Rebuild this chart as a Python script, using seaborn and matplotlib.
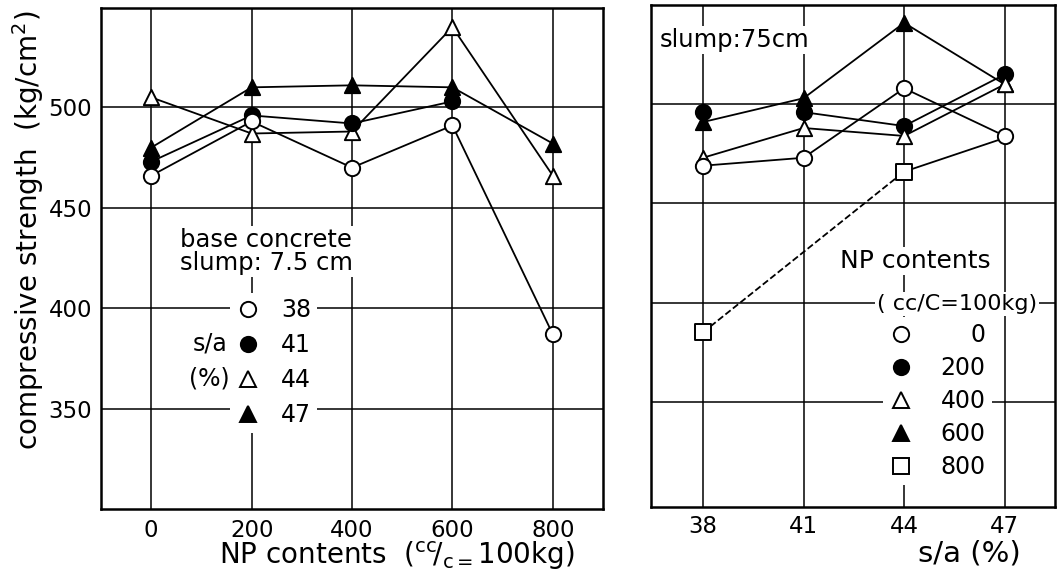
import numpy as np
import matplotlib
matplotlib.use("Agg")
import matplotlib.pyplot as plt
from matplotlib.lines import Line2D
import seaborn as sns

# ---- data -------------------------------------------------------------
np_contents = [0, 200, 400, 600, 800]          # NP contents (cc/C=100kg)
sa_levels = [38, 41, 44, 47]                   # s/a (%)

# compressive strength (kg/cm2) against NP contents, one series per s/a
strength_sa38 = [466, 493, 470, 491, 387]
strength_sa41 = [473, 496, 492, 503, np.nan]
strength_sa44 = [505, 487, 488, 540, 466]
strength_sa47 = [480, 510, 511, 510, 482]

# compressive strength (kg/cm2) against s/a, one series per NP content
strength_np0 = [469, 473, 508, 484]
strength_np200 = [496, 496, 489, 515]
strength_np400 = [473, 488, 484, 510]
strength_np600 = [491, 503, 541, 510]
strength_np800 = [385, np.nan, 466, 483]

sa_labels = ["38", "41", "44", "47"]
np_labels = ["0", "200", "400", "600", "800"]
strength_ticks = [350, 400, 450, 500]

# ---- style ------------------------------------------------------------
sns.set_theme(style="white")
plt.rcParams["font.family"] = ["DejaVu Sans"]
plt.rcParams["mathtext.fontset"] = "dejavusans"
for key in ("text.color", "axes.labelcolor", "xtick.color", "ytick.color",
            "axes.edgecolor"):
    plt.rcParams[key] = "black"
plt.rcParams["axes.linewidth"] = 1.8

MS = 11
MEW = 1.4
LW = 1.3
FS_TICK = 16.5
FS_LEG = 17
FS_TEXT = 17.5
FS_LABEL = 20

fig = plt.figure(figsize=(10.57, 5.73), dpi=100)
ax_l = fig.add_axes([0.0956, 0.1117, 0.4749, 0.8743])
ax_r = fig.add_axes([0.6159, 0.1152, 0.3822, 0.8761])


def draw_line(ax, x, y, dashed=False):
    sns.lineplot(x=x, y=y, ax=ax, color="black", lw=LW, zorder=2,
                 linestyle="--" if dashed else "-", legend=False)


def draw_marks(ax, x, y, marker, face, z):
    sns.scatterplot(x=x, y=y, ax=ax, marker=marker, s=MS ** 2, color=face,
                    edgecolor="black", linewidth=MEW, zorder=z, legend=False)


def style_axes(ax, xticks, xlabels, ylim, xlim, show_y):
    ax.set_xlim(*xlim)
    ax.set_ylim(*ylim)
    ax.set_xticks(xticks)
    ax.set_xticklabels(xlabels)
    ax.set_yticks(strength_ticks)
    if not show_y:
        ax.set_yticklabels([])
    ax.tick_params(length=0, labelsize=FS_TICK, colors="black")
    ax.grid(True, color="black", lw=1.1)
    ax.set_axisbelow(True)
    for sp in ax.spines.values():
        sp.set_visible(True)
        sp.set_color("black")
        sp.set_linewidth(1.8)


def marker_handles(specs):
    return [Line2D([], [], ls="none", marker=mk, ms=MS, mfc=face,
                   mec="black", mew=MEW) for mk, face in specs]


def white_legend(ax, handles, labels, anchor, textpad, spacing):
    leg = ax.legend(handles, labels, loc="upper left", bbox_to_anchor=anchor,
                    frameon=True, fontsize=FS_LEG, handlelength=1.0,
                    handletextpad=textpad, borderpad=0.25,
                    labelspacing=spacing, borderaxespad=0, fancybox=False,
                    framealpha=1)
    leg.get_frame().set_facecolor("white")
    leg.get_frame().set_edgecolor("none")
    return leg


white_box = dict(facecolor="white", edgecolor="none", pad=1.5)

# ---- left panel: strength vs NP contents -------------------------------
left_series = [
    (strength_sa44, "^", "white", 3),
    (strength_sa41, "o", "black", 4),
    (strength_sa47, "^", "black", 5),
    (strength_sa38, "o", "white", 6),
]
for vals, mk, face, z in left_series:
    x = np.array(np_contents, dtype=float)
    y = np.array(vals, dtype=float)
    ok = ~np.isnan(y)
    draw_line(ax_l, x[ok], y[ok])
    draw_marks(ax_l, x[ok], y[ok], mk, face, z)

style_axes(ax_l, np_contents, np_labels, (300, 549.5), (-100, 900), True)
ax_l.tick_params(axis="y", pad=6.5)
ax_l.tick_params(axis="x", pad=7)
ax_l.set_ylabel("compressive strength  (kg/cm$^2$)", fontsize=FS_LABEL)
ax_l.yaxis.set_label_coords(-0.110, 0.557)
ax_l.set_xlabel(r"NP contents  ($^{\rm cc}\!/_{\rm c=}$100kg)", fontsize=FS_LABEL)
ax_l.xaxis.set_label_coords(0.588, -0.062)

ax_l.text(0.157, 0.514, "base concrete\nslump: 7.5 cm", transform=ax_l.transAxes,
          fontsize=FS_TEXT, ha="left", va="center", linespacing=0.95,
          bbox=white_box, zorder=6)
ax_l.text(0.251, 0.331, "s/a", transform=ax_l.transAxes,
          fontsize=FS_LEG, ha="right", va="center", bbox=white_box, zorder=6)
ax_l.text(0.257, 0.261, "(%)", transform=ax_l.transAxes,
          fontsize=FS_LEG, ha="right", va="center", bbox=white_box, zorder=6)

white_legend(ax_l,
             marker_handles([("o", "white"), ("o", "black"),
                             ("^", "white"), ("^", "black")]),
             sa_labels, (0.2575, 0.432), 0.9, 0.46)

# ---- right panel: strength vs s/a ---------------------------------------
sa = np.array(sa_levels, dtype=float)

# NP 800: dashed from 38 to 44, solid from 44 to 47
v800 = np.array(strength_np800, dtype=float)
draw_line(ax_r, sa[[0, 2]], v800[[0, 2]], dashed=True)
draw_line(ax_r, sa[2:], v800[2:])
draw_marks(ax_r, sa[[0, 2]], v800[[0, 2]], "s", "white", 3)

v600 = np.array(strength_np600, dtype=float)
draw_line(ax_r, sa, v600)
draw_marks(ax_r, sa, v600, "^", "black", 4)

v200 = np.array(strength_np200, dtype=float)
draw_line(ax_r, sa[1:], v200[1:])
draw_marks(ax_r, sa, v200, "o", "black", 5)

v400 = np.array(strength_np400, dtype=float)
draw_line(ax_r, sa, v400)
draw_marks(ax_r, sa, v400, "^", "white", 6)

v0 = np.array(strength_np0, dtype=float)
draw_line(ax_r, sa, v0)
draw_marks(ax_r, sa, v0, "o", "white", 7)

style_axes(ax_r, sa_levels, sa_labels, (297, 550), (36.45, 48.5), False)
ax_r.tick_params(axis="x", pad=5.5)
ax_r.set_ylabel("")
ax_r.set_xlabel("s/a (%)", fontsize=21)
ax_r.xaxis.set_label_coords(0.787, -0.064)

ax_r.text(0.022, 0.930, "slump:75cm", transform=ax_r.transAxes,
          fontsize=FS_TEXT, ha="left", va="center", bbox=white_box, zorder=8)
ax_r.text(0.468, 0.490, "NP contents", transform=ax_r.transAxes,
          fontsize=18, ha="left", va="center", bbox=white_box, zorder=8)
ax_r.text(0.559, 0.404, "( cc/C=100kg)", transform=ax_r.transAxes,
          fontsize=16, ha="left", va="center", bbox=white_box, zorder=8)

# right-aligned numbers: two spaces take the width of one digit
right_labels = ["  " * (3 - len(s)) + s for s in np_labels]
white_legend(ax_r,
             marker_handles([("o", "white"), ("o", "black"), ("^", "white"),
                             ("^", "black"), ("s", "white")]),
             right_labels, (0.574, 0.378), 1.2, 0.38)

fig.savefig("out.png", dpi=100, facecolor="white")
